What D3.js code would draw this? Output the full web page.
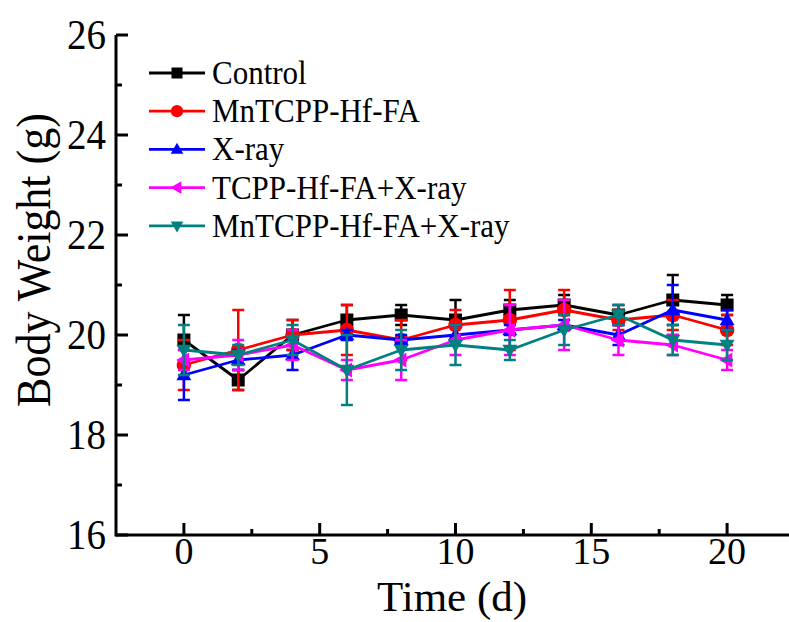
<!DOCTYPE html>
<html>
<head>
<meta charset="utf-8">
<script src="https://cdn.jsdelivr.net/npm/d3@7"></script>
<style>
  html, body { margin: 0; padding: 0; background: #fff; }
  svg { display: block; font-family: "Liberation Serif", "Times New Roman", serif; }
</style>
</head>
<body>
<svg id="chart" width="789" height="622"></svg>
<script>
// Body weight of mice over the treatment period (mean ± SD)
const days = [0, 2, 4, 6, 8, 10, 12, 14, 16, 18, 20];

const seriesNames = ["Control", "MnTCPP-Hf-FA", "X-ray", "TCPP-Hf-FA+X-ray", "MnTCPP-Hf-FA+X-ray"];
const seriesColors = ["#000000", "#ff0000", "#0000ff", "#ff00ff", "#008080"];
const seriesSymbols = ["square", "circle", "triangleUp", "triangleLeft", "triangleDown"];

const controlMean  = [19.9, 19.1, 20.0, 20.3, 20.4, 20.3, 20.5, 20.6, 20.4, 20.7, 20.6];
const controlErr   = [0.5, 0.2, 0.3, 0.3, 0.2, 0.4, 0.2, 0.2, 0.2, 0.5, 0.2];
const mnMean       = [19.4, 19.7, 20.0, 20.1, 19.9, 20.2, 20.3, 20.5, 20.3, 20.4, 20.1];
const mnErr        = [0.5, 0.8, 0.3, 0.5, 0.4, 0.3, 0.6, 0.4, 0.2, 0.3, 0.3];
const xrayMean     = [19.2, 19.5, 19.6, 20.0, 19.9, 20.0, 20.1, 20.2, 20.0, 20.5, 20.3];
const xrayErr      = [0.5, 0.2, 0.3, 0.1, 0.1, 0.2, 0.1, 0.1, 0.2, 0.5, 0.2];
const tcppXMean    = [19.5, 19.6, 19.8, 19.3, 19.5, 19.9, 20.1, 20.2, 19.9, 19.8, 19.5];
const tcppXErr     = [0.2, 0.3, 0.3, 0.2, 0.4, 0.3, 0.5, 0.5, 0.3, 0.2, 0.2];
const mnXMean      = [19.7, 19.6, 19.9, 19.3, 19.7, 19.8, 19.7, 20.1, 20.4, 19.9, 19.8];
const mnXErr       = [0.5, 0.2, 0.3, 0.7, 0.4, 0.4, 0.2, 0.3, 0.2, 0.3, 0.3];

const xMajorTicks = [0, 5, 10, 15, 20];
const xMinorTicks = [2.5, 7.5, 12.5, 17.5];
const yMajorTicks = [16, 18, 20, 22, 24, 26];
const yMinorTicks = [17, 19, 21, 23, 25];

const means = [controlMean, mnMean, xrayMean, tcppXMean, mnXMean];
const errs = [controlErr, mnErr, xrayErr, tcppXErr, mnXErr];

const series = seriesNames.map((name, i) => ({
  name,
  color: seriesColors[i],
  symbol: seriesSymbols[i],
  points: days.map((d, j) => ({ day: d, value: means[i][j], err: errs[i][j] }))
}));

const svg = d3.select("#chart");
svg.append("rect").attr("width", 789).attr("height", 622).attr("fill", "#fff");

const x = d3.scaleLinear().domain([-2.5, 22.5]).range([116, 795]);
const y = d3.scaleLinear().domain([16, 26]).range([535, 35]);

// marker shapes
function symbolPath(kind, s) {
  switch (kind) {
    case "square": return `M${-s},${-s}H${s}V${s}H${-s}Z`;
    case "circle": return d3.symbol(d3.symbolCircle, Math.PI * s * s * 1.25)();
    case "triangleUp": return `M0,${-s * 1.2}L${s * 1.15},${s * 0.8}L${-s * 1.15},${s * 0.8}Z`;
    case "triangleDown": return `M0,${s * 1.2}L${s * 1.15},${-s * 0.8}L${-s * 1.15},${-s * 0.8}Z`;
    case "triangleLeft": return `M${-s * 1.2},0L${s * 0.8},${-s * 1.15}L${s * 0.8},${s * 1.15}Z`;
  }
}

const plot = svg.append("g");
const line = d3.line().x(d => x(d.day)).y(d => y(d.value));

series.forEach(s => {
  const g = plot.append("g");
  // error bars
  const eb = g.selectAll(".eb").data(s.points).enter().append("g")
    .attr("stroke", s.color).attr("stroke-width", 2.5);
  eb.append("line")
    .attr("x1", d => x(d.day)).attr("x2", d => x(d.day))
    .attr("y1", d => y(d.value + d.err)).attr("y2", d => y(d.value - d.err));
  eb.append("line")
    .attr("x1", d => x(d.day) - 6).attr("x2", d => x(d.day) + 6)
    .attr("y1", d => y(d.value + d.err)).attr("y2", d => y(d.value + d.err));
  eb.append("line")
    .attr("x1", d => x(d.day) - 6).attr("x2", d => x(d.day) + 6)
    .attr("y1", d => y(d.value - d.err)).attr("y2", d => y(d.value - d.err));
  // connecting line
  g.append("path").datum(s.points)
    .attr("d", line).attr("fill", "none")
    .attr("stroke", s.color).attr("stroke-width", 2.8).attr("stroke-linejoin", "round");
  // markers
  g.selectAll(".mk").data(s.points).enter().append("path")
    .attr("transform", d => `translate(${x(d.day)},${y(d.value)})`)
    .attr("d", symbolPath(s.symbol, 6.5))
    .attr("fill", s.color);
});

// axes
const axes = svg.append("g").attr("stroke", "#000").attr("stroke-width", 3);
axes.append("line").attr("x1", x(-2.5)).attr("x2", 789).attr("y1", y(16)).attr("y2", y(16));
axes.append("line").attr("x1", x(-2.5)).attr("x2", x(-2.5)).attr("y1", y(16) + 1.5).attr("y2", y(26));

axes.selectAll(".xmaj").data(xMajorTicks).enter().append("line")
  .attr("x1", d => x(d)).attr("x2", d => x(d)).attr("y1", y(16)).attr("y2", y(16) - 12);
axes.selectAll(".xmin").data(xMinorTicks).enter().append("line")
  .attr("x1", d => x(d)).attr("x2", d => x(d)).attr("y1", y(16)).attr("y2", y(16) - 6);
axes.selectAll(".ymaj").data(yMajorTicks).enter().append("line")
  .attr("x1", x(-2.5)).attr("x2", x(-2.5) + 12).attr("y1", d => y(d)).attr("y2", d => y(d));
axes.selectAll(".ymin").data(yMinorTicks).enter().append("line")
  .attr("x1", x(-2.5)).attr("x2", x(-2.5) + 6).attr("y1", d => y(d)).attr("y2", d => y(d));

const labels = svg.append("g").attr("fill", "#000");
labels.selectAll(".xl").data(xMajorTicks).enter().append("text")
  .attr("x", d => x(d)).attr("y", 564)
  .attr("text-anchor", "middle").attr("font-size", 38)
  .text(d => d);
labels.selectAll(".yl").data(yMajorTicks).enter().append("text")
  .attr("transform", d => `translate(106,${y(d) + 14}) scale(1,1.1)`)
  .attr("text-anchor", "end").attr("font-size", 39)
  .text(d => d);

svg.append("text")
  .attr("x", 452).attr("y", 611)
  .attr("text-anchor", "middle").attr("font-size", 43)
  .text("Time (d)");
svg.append("text")
  .attr("transform", "translate(50,260) rotate(-90) scale(1,1.08)")
  .attr("text-anchor", "middle").attr("font-size", 44)
  .text("Body Weight (g)");

// legend
const legend = svg.append("g");
series.forEach((s, i) => {
  const ly = 73 + i * 38.2;
  const row = legend.append("g");
  row.append("line").attr("x1", 149).attr("x2", 205).attr("y1", ly).attr("y2", ly)
    .attr("stroke", s.color).attr("stroke-width", 2.8);
  row.append("path").attr("transform", `translate(177,${ly})`)
    .attr("d", symbolPath(s.symbol, 5.5)).attr("fill", s.color);
  row.append("text").attr("transform", `translate(212,${ly + 11}) scale(1,1.12)`)
    .attr("font-size", 31).text(s.name);
});
</script>
</body>
</html>
